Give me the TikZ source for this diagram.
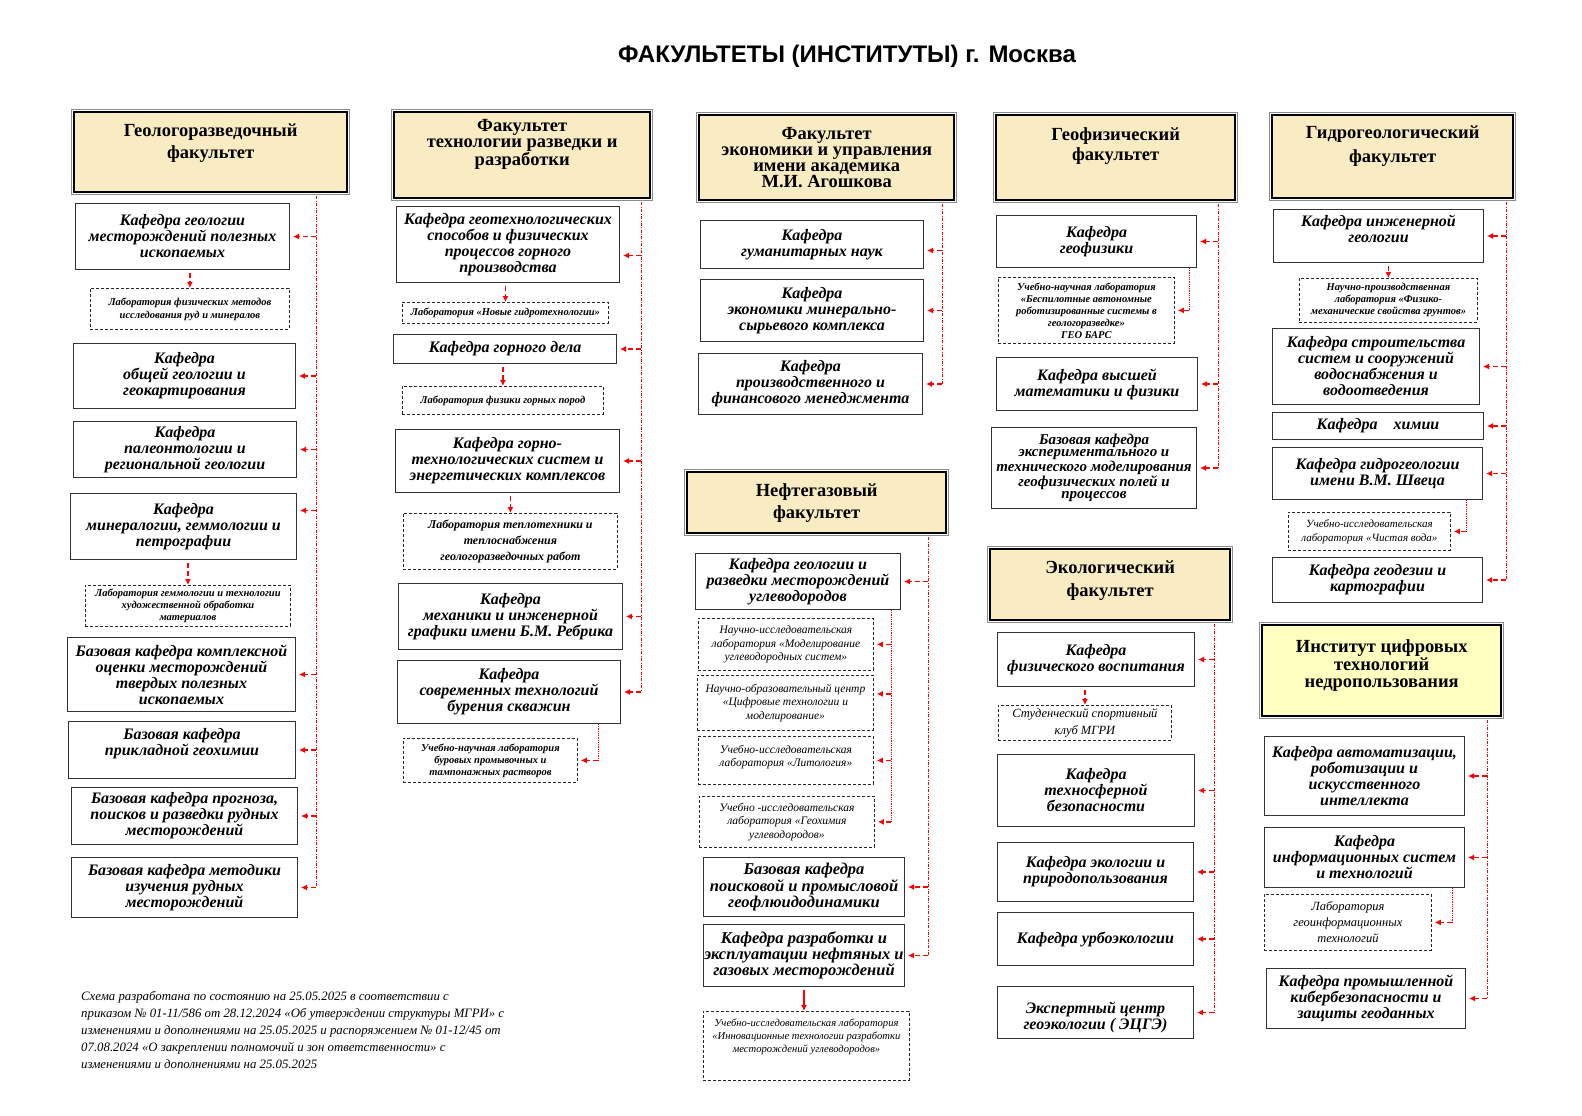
\documentclass[tikz,border=0pt]{standalone}
\usepackage{fontspec}
\setmainfont{Liberation Serif}
\newfontfamily\headfont{Liberation Sans}
\usetikzlibrary{arrows.meta,calc}
\definecolor{facfill}{RGB}{250,236,194}
\definecolor{instfill}{RGB}{255,255,192}
\newcommand{\lift}[1]{\\[#1]\mbox{}}
\newcommand{\sink}[1]{\mbox{}\\[#1]}
\tikzset{
  org/spot/.style args={#1,#2,#3,#4}{anchor=north west, at={(#1,#2)}, minimum width=#3-#1, minimum height=#4-#2},
  org/faculty/.style={draw=black, line width=2.4pt, fill=facfill, align=center, inner sep=0pt, font=\bfseries\fontsize{18.5}{#1}\selectfont},
  org/faculty/.default=22,
  org/dept/.style={draw=black!80, line width=1pt, fill=white, align=center, inner sep=0pt, font=\bfseries\itshape\fontsize{16}{#1}\selectfont},
  org/dept/.default=16,
  org/lab/.style={draw=black!85, line width=0.8pt, dash pattern=on 3pt off 2pt, align=center, inner sep=0pt, font=\itshape\fontsize{11.5}{#1}\selectfont},
  org/lab/.default=13.5,
  org/blab/.style={org/lab, font=\bfseries\itshape\fontsize{10.5}{#1}\selectfont},
  org/blab/.default=12.5,
  org/spine/.style={red, line width=0.8pt, dash pattern=on 3pt off 1.5pt on 0.8pt off 1.5pt},
  org/sub/.style={red, line width=0.8pt, densely dotted},
  org/link/.style={red, line width=1.3pt, dash pattern=on 5pt off 3pt, -{Latex[length=6pt,width=6pt]}, shorten >=3pt},
  org/drop/.style={org/link, shorten >=0pt, shorten <=3pt},
  org/note/.style={align=left, inner sep=0pt, font=\itshape\fontsize{12.8}{17}\selectfont}
}

\begin{document}
\begin{tikzpicture}[x=1pt, y=-1pt]
  \useasboundingbox (0,0) rectangle (1582,1116);

  \node[font=\headfont\bfseries\fontsize{24}{26}\selectfont] (title) at (847,56) {ФАКУЛЬТЕТЫ (ИНСТИТУТЫ) г. Москва};

  % Геологоразведочный факультет
  \node[org/faculty, org/spot={73,111,346,191}] (gf) {Геологоразведочный\\факультет\lift{0pt}};
  \node[org/dept, org/spot={75,203,289,269}] (gf1) {Кафедра геологии\\месторождений полезных\\ископаемых};
  \node[org/blab=13, org/spot={90,288,289,329}] (gfL1) {Лаборатория физических методов\\исследования руд и минералов};
  \node[org/dept, org/spot={73,343,295,408}] (gf2) {Кафедра\\общей геологии и\\геокартирования};
  \node[org/dept, org/spot={73,421,296,477}] (gf3) {Кафедра\\палеонтологии и\\региональной геологии};
  \node[org/dept, org/spot={70,493,296,559}] (gf4) {Кафедра\\минералогии, геммологии и\\петрографии};
  \node[org/blab=12, org/spot={85,585,290,626}] (gfL2) {Лаборатория геммологии и технологии\\художественной обработки\\материалов};
  \node[org/dept, org/spot={67,637,295,711}] (gf5) {Базовая кафедра комплексной\\оценки месторождений\\твердых полезных\\ископаемых};
  \node[org/dept, org/spot={68,721,295,778}] (gf6) {Базовая кафедра\\прикладной геохимии\lift{0pt}};
  \node[org/dept, org/spot={71,787,297,844}] (gf7) {Базовая кафедра прогноза,\\поисков и разведки рудных\\месторождений};
  \node[org/dept, org/spot={71,857,297,917}] (gf8) {Базовая кафедра методики\\изучения рудных\\месторождений};

  % Факультет технологии разведки и разработки
  \node[org/faculty=16.5, org/spot={393,111,649,197}] (tr) {Факультет\\технологии разведки и\\разработки\lift{9pt}};
  \node[org/dept, org/spot={396,206,619,282}] (tr1) {Кафедра геотехнологических\\способов и физических\\процессов горного\\производства};
  \node[org/blab, org/spot={402,302,608,323}] (trL1) {Лаборатория «Новые гидротехнологии»};
  \node[org/dept, org/spot={393,334,616,363}] (tr2) {Кафедра горного дела};
  \node[org/blab, org/spot={402,386,603,414}] (trL2) {Лаборатория физики горных пород};
  \node[org/blab, font=\bfseries\itshape\fontsize{12}{16}\selectfont, org/spot={403,513,617,569}] (trL3) {Лаборатория теплотехники и\\теплоснабжения\\геологоразведочных работ};
  \node[org/dept, org/spot={395,429,619,492}] (tr3) {Кафедра горно-\\технологических систем и\\энергетических комплексов};
  \node[org/dept, org/spot={398,583,622,649}] (tr4) {Кафедра\\механики и инженерной\\графики имени Б.М. Ребрика};
  \node[org/dept, org/spot={397,660,620,723}] (tr5) {Кафедра\\современных технологий\\бурения скважин};
  \node[org/blab=12, org/spot={403,738,577,782}] (trL4) {Учебно-научная лаборатория\\буровых промывочных и\\тампонажных растворов};

  % Факультет экономики и управления
  \node[org/faculty=16, org/spot={698,114,953,199}] (ek) {Факультет\\экономики и управления\\имени академика\\М.И. Агошкова};
  \node[org/dept, org/spot={700,220,923,268}] (ek1) {Кафедра\\гуманитарных наук};
  \node[org/dept, org/spot={700,279,923,341}] (ek2) {Кафедра\\экономики минерально-\\сырьевого комплекса};
  \node[org/dept, org/spot={698,353,922,414}] (ek3) {Кафедра\\производственного и\\финансового менеджмента};

  % Нефтегазовый факультет
  \node[org/faculty, org/spot={686,471,945,532}] (ng) {Нефтегазовый\\факультет};
  \node[org/dept, org/spot={695,553,900,609}] (ng1) {Кафедра геологии и\\разведки месторождений\\углеводородов};
  \node[org/lab, org/spot={698,618,873,670}] (ngL1) {Научно-исследовательская\\лаборатория «Моделирование\\углеводородных систем»};
  \node[org/lab, org/spot={697,675,873,730}] (ngL2) {Научно-образовательный центр\\«Цифровые технологии и\\моделирование»};
  \node[org/lab, org/spot={698,736,873,784}] (ngL3) {Учебно-исследовательская\\лаборатория «Литология»\lift{-4pt}};
  \node[org/lab, org/spot={699,796,874,847}] (ngL4) {Учебно -исследовательская\\лаборатория «Геохимия\\углеводородов»};
  \node[org/dept, font=\bfseries\itshape\fontsize{16.5}{12}\selectfont, org/spot={703,857,904,916}] (ng2) {Базовая кафедра\\поисковой и промысловой\\геофлюидодинамики};
  \node[org/dept, font=\bfseries\itshape\fontsize{16.5}{12}\selectfont, org/spot={703,924,904,986}] (ng3) {Кафедра разработки и\\эксплуатации нефтяных и\\газовых месторождений};
  \node[org/lab, font=\itshape\fontsize{10.6}{13}\selectfont, org/spot={703,1011,909,1080}] (ngL5) {Учебно-исследовательская лаборатория\\«Инновационные технологии разработки\\месторождений углеводородов»\lift{8pt}};

  % Геофизический факультет
  \node[org/faculty=20, org/spot={995,114,1234,199}] (gph) {Геофизический\\факультет\lift{7pt}};
  \node[org/dept, org/spot={996,215,1196,267}] (gph1) {Кафедра\\геофизики};
  \node[org/blab=12, org/spot={998,277,1174,343}] (gphL1) {Учебно-научная лаборатория\\«Беспилотные автономные\\роботизированные системы в\\геологоразведке»\\ГЕО БАРС};
  \node[org/dept, org/spot={996,357,1197,410}] (gph2) {Кафедра высшей\\математики и физики};
  \node[org/dept, font=\bfseries\itshape\fontsize{15}{12}\selectfont, org/spot={991,427,1196,508}] (gph3) {Базовая кафедра\\экспериментального и\\технического моделирования\\геофизических полей и\\процессов};

  % Экологический факультет
  \node[org/faculty=23, org/spot={989,548,1229,619}] (eco) {Экологический\\факультет\lift{-10pt}};
  \node[org/dept, org/spot={997,632,1194,686}] (eco1) {Кафедра\\физического воспитания};
  \node[org/lab, font=\itshape\fontsize{12.5}{17}\selectfont, org/spot={998,705,1171,740}] (ecoL1) {Студенческий спортивный\\клуб МГРИ};
  \node[org/dept, org/spot={997,754,1194,826}] (eco2) {Кафедра\\техносферной\\безопасности};
  \node[org/dept, org/spot={997,842,1193,901}] (eco3) {Кафедра экологии и\\природопользования};
  \node[org/dept, org/spot={997,912,1193,965}] (eco4) {Кафедра урбоэкологии};
  \node[org/dept, org/spot={997,986,1193,1038}] (eco5) {\sink{6pt}Экспертный центр\\геоэкологии ( ЭЦГЭ)};

  % Гидрогеологический факультет
  \node[org/faculty=24, org/spot={1271,114,1512,197}] (gg) {Гидрогеологический\\факультет\lift{1pt}};
  \node[org/dept, org/spot={1273,209,1483,262}] (gg1) {Кафедра инженерной\\геологии\lift{-2pt}};
  \node[org/blab=12, org/spot={1299,278,1477,322}] (ggL1) {Научно-производственная\\лаборатория «Физико-\\механические свойства грунтов»};
  \node[org/dept, org/spot={1272,328,1479,404}] (gg2) {Кафедра строительства\\систем и сооружений\\водоснабжения и\\водоотведения};
  \node[org/dept, org/spot={1272,412,1483,439}] (gg3) {Кафедра\quad химии};
  \node[org/dept, org/spot={1272,447,1482,499}] (gg4) {Кафедра гидрогеологии\\имени В.М. Швеца};
  \node[org/lab=14, font=\itshape\fontsize{11}{14}\selectfont, org/spot={1288,512,1450,550}] (ggL2) {Учебно-исследовательская\\лаборатория «Чистая вода»};
  \node[org/dept, org/spot={1272,557,1482,602}] (gg5) {Кафедра геодезии и\\картографии};

  % Институт цифровых технологий недропользования
  \node[org/faculty=17.5, fill=instfill, font=\bfseries\fontsize{18.5}{17.5}\selectfont, org/spot={1261,624,1500,715}] (icd) {Институт цифровых\\технологий\\недропользования\lift{-4pt}};
  \node[org/dept, org/spot={1264,736,1464,815}] (icd1) {Кафедра автоматизации,\\роботизации и\\искусственного\\интеллекта};
  \node[org/dept, org/spot={1264,827,1464,887}] (icd2) {Кафедра\\информационных систем\\и технологий};
  \node[org/lab, font=\itshape\fontsize{12.5}{16}\selectfont, org/spot={1264,894,1431,950}] (icdL1) {Лаборатория\\геоинформационных\\технологий};
  \node[org/dept, org/spot={1266,968,1465,1028}] (icd3) {Кафедра промышленной\\кибербезопасности и\\защиты геоданных};

  \node[org/note, anchor=north west] (memo) at (81,991) {Схема разработана по состоянию на 25.05.2025 в соответствии с\\приказом № 01-11/586 от 28.12.2024 «Об утверждении структуры МГРИ» с\\изменениями и дополнениями на 25.05.2025 и распоряжением № 01-12/45 от\\07.08.2024 «О закреплении полномочий и зон ответственности» с\\изменениями и дополнениями на 25.05.2025};

  % outer frame of the faculty boxes
  \foreach \f in {gf,tr,ek,ng,gph,eco,gg,icd}
    \draw[black!45, line width=0.9pt] ($(\f.south west)+(-1.3,1.3)$) rectangle ($(\f.north east)+(1.3,-1.3)$);

  % spines
  \coordinate (gfX) at (316,0);
  \coordinate (trX) at (641,0);
  \coordinate (ekX) at (942,0);
  \coordinate (ngX) at (928,0);
  \coordinate (gphX) at (1218,0);
  \coordinate (ecoX) at (1214,0);
  \coordinate (ggX) at (1506,0);
  \coordinate (icdX) at (1487,0);
  \draw[org/spine] ([yshift=-3pt]gf.south -| gfX) -- (gf8.east -| gfX);
  \draw[org/spine] ([yshift=-3pt]tr.south -| trX) -- (tr5.east -| trX);
  \draw[org/spine] ([yshift=-3pt]ek.south -| ekX) -- (ek3.east -| ekX);
  \draw[org/spine] ([yshift=-3pt]ng.south -| ngX) -- (ng3.east -| ngX);
  \draw[org/spine] ([yshift=-3pt]gph.south -| gphX) -- (gph3.east -| gphX);
  \draw[org/spine] ([yshift=-3pt]eco.south -| ecoX) -- (eco5.east -| ecoX);
  \draw[org/spine] ([yshift=-3pt]gg.south -| ggX) -- (gg5.east -| ggX);
  \draw[org/spine] ([yshift=-3pt]icd.south -| icdX) -- (icd3.east -| icdX);

  \foreach \k in {gf1,gf2,gf3,gf5,gf6,gf7,gf8}
    \draw[org/link] (\k.east -| gfX) -- (\k.east);
  \draw[org/link] ($(gf4.east -| gfX)+(0,-16)$) -- ($(gf4.east)+(0,-16)$);
  \foreach \k in {tr2,tr3,tr4,tr5}
    \draw[org/link] (\k.east -| trX) -- (\k.east);
  \draw[org/link] ($(tr1.east -| trX)+(0,11)$) -- ($(tr1.east)+(0,11)$);
  \foreach \k in {ek2,ek3}
    \draw[org/link] (\k.east -| ekX) -- (\k.east);
  \draw[org/link] ($(ek1.east -| ekX)+(0,6)$) -- ($(ek1.east)+(0,6)$);
  \foreach \k in {ng1,ng2,ng3}
    \draw[org/link] (\k.east -| ngX) -- (\k.east);
  \foreach \k in {gph1,gph2,gph3}
    \draw[org/link] (\k.east -| gphX) -- (\k.east);
  \foreach \k in {eco1,eco2,eco3,eco4,eco5}
    \draw[org/link] (\k.east -| ecoX) -- (\k.east);
  \foreach \k in {gg1,gg2,gg3,gg4,gg5}
    \draw[org/link] (\k.east -| ggX) -- (\k.east);
  \foreach \k in {icd1,icd2,icd3}
    \draw[org/link] (\k.east -| icdX) -- (\k.east);

  % laboratories
  \draw[org/drop] (gfL1.north |- gf1.south) -- (gfL1.north);
  \draw[org/drop] (gfL2.north |- gf4.south) -- (gfL2.north);
  \draw[org/drop] (trL1.north |- tr1.south) -- (trL1.north);
  \draw[org/drop] (trL2.north |- tr2.south) -- (trL2.north);
  \draw[org/drop] (trL3.north |- tr3.south) -- (trL3.north);
  \draw[org/drop] (ecoL1.north |- eco1.south) -- (ecoL1.north);
  \draw[org/drop] (ggL1.north |- gg1.south) -- (ggL1.north);
  \draw[org/drop, solid] (ng3.south) -- (ngL5.north -| ng3.south);

  \coordinate (trS) at (598,0);
  \coordinate (ngS) at (891,0);
  \coordinate (gphS) at (1189,0);
  \coordinate (ggS) at (1466,0);
  \coordinate (icdS) at (1452,0);
  \draw[org/sub] (tr5.south -| trS) -- (trL4.east -| trS);
  \draw[org/link] (trL4.east -| trS) -- (trL4.east);
  \draw[org/sub] (ng1.south -| ngS) -- (ngL4.east -| ngS);
  \foreach \k in {ngL1,ngL3,ngL4}
    \draw[org/link] (\k.east -| ngS) -- (\k.east);
  \draw[org/link] ($(ngL2.east -| ngS)+(0,-9)$) -- ($(ngL2.east)+(0,-9)$);
  \draw[org/sub] (gph1.south -| gphS) -- (gphL1.east -| gphS);
  \draw[org/link] (gphL1.east -| gphS) -- (gphL1.east);
  \draw[org/sub] (gg4.south -| ggS) -- (ggL2.east -| ggS);
  \draw[org/link] (ggL2.east -| ggS) -- (ggL2.east);
  \draw[org/sub] (icd2.south -| icdS) -- (icdL1.east -| icdS);
  \draw[org/link] (icdL1.east -| icdS) -- (icdL1.east);
\end{tikzpicture}
\end{document}
